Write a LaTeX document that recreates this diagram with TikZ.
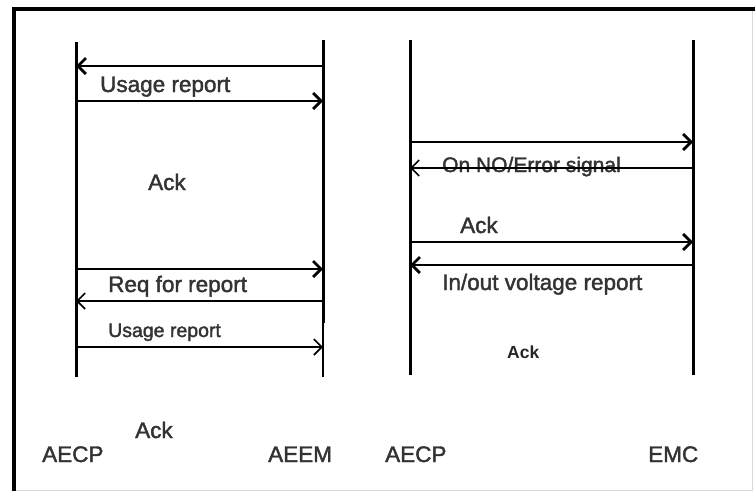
\documentclass[tikz,border=0pt]{standalone}
\usepackage{fontspec}
\setmainfont{Liberation Sans}
\newfontfamily\medfont{Liberation Sans}[FakeBold=1.8]
\usetikzlibrary{arrows.meta}

\tikzset{
  lifeline/.style={line width=3pt},
  msg/.style={line width=2.8pt,-{Straight Barb[length=8pt,width=16pt]}},
  thinmsg/.style={msg,line width=1.6pt},
  lbl/.style={font=\medfont\fontsize{22.5}{26}\selectfont,inner sep=0pt,anchor=base west,text=black!80},
  smalllbl/.style={lbl,font=\medfont\fontsize{19.5}{23}\selectfont},
}

\begin{document}
\begin{tikzpicture}[x=1pt,y=-1pt]
  \def\aecpL{76}
  \def\aeem{323}
  \def\aecpR{410}
  \def\emc{693}

  \useasboundingbox (0,0) rectangle (755,493);
  % frame
  \draw[black!15,line width=1pt] (14,490) -- (752,490) -- (752,9);
  \draw[line width=3.5pt] (14,491) -- (14,9) -- (755,9);

  % lifelines
  \coordinate (aecpL-top) at (\aecpL,42);
  \coordinate (aecpL-bot) at (\aecpL,377);
  \coordinate (aeem-top) at (\aeem,40);
  \coordinate (aeem-bot) at (\aeem,377);
  \coordinate (aecpR-top) at (\aecpR,40);
  \coordinate (aecpR-bot) at (\aecpR,375);
  \coordinate (emc-top) at (\emc,40);
  \coordinate (emc-bot) at (\emc,375);
  \draw[lifeline] (aecpL-top) -- (aecpL-bot);
  \draw[line width=2pt] (aeem-top) -- (aeem-bot);
  \draw[lifeline] (aeem-top) -- (\aeem,323);
  \draw[lifeline] (aecpR-top) -- (aecpR-bot);
  \draw[lifeline] (emc-top) -- (emc-bot);

  % message points on the lifelines
  \foreach \y [count=\i] in {66,101,269,301,347} {
    \coordinate (l\i) at (\aecpL,\y);
    \coordinate (r\i) at (\aeem,\y);
  }
  \foreach \y [count=\i] in {142,168,242,265} {
    \coordinate (p\i) at (\aecpR,\y);
    \coordinate (q\i) at (\emc,\y);
  }

  % labels (base west)
  \node[lbl] (usage) at (100,92) {Usage report};
  \node[lbl] (ackA) at (148,190) {Ack};
  \node[lbl] (req) at (108,292) {Req for report};
  \node[smalllbl] (usageB) at (108,337) {Usage report};
  \node[lbl] (ackB) at (135,438) {Ack};
  \node[lbl] (aecpA) at (42,462) {AECP};
  \node[lbl] (aeemA) at (268,462) {AEEM};

  \node[lbl,font=\medfont\fontsize{21}{24}\selectfont] (onerr) at (442,172) {On NO/Error signal};
  \node[lbl] (ackC) at (460,233) {Ack};
  \node[lbl] (inout) at (442,290) {In/out voltage report};
  \node[lbl,font=\bfseries\fontsize{17.5}{20}\selectfont,text=black!85] (ackD) at (507,358) {Ack};
  \node[lbl] (aecpB) at (385,462) {AECP};
  \node[lbl] (emcA) at (648,462) {EMC};

  % messages
  \draw[msg] (r1) -- (l1);
  \draw[msg] (l2) -- (r2);
  \draw[msg] (l3) -- (r3);
  \draw[thinmsg] (r4) -- (l4);
  \draw[thinmsg] (l5) -- (r5);

  \draw[msg] (p1) -- (q1);
  \draw[thinmsg] (q2) -- (p2);
  \draw[msg] (p3) -- (q3);
  \draw[msg] (q4) -- (p4);
\end{tikzpicture}
\end{document}
